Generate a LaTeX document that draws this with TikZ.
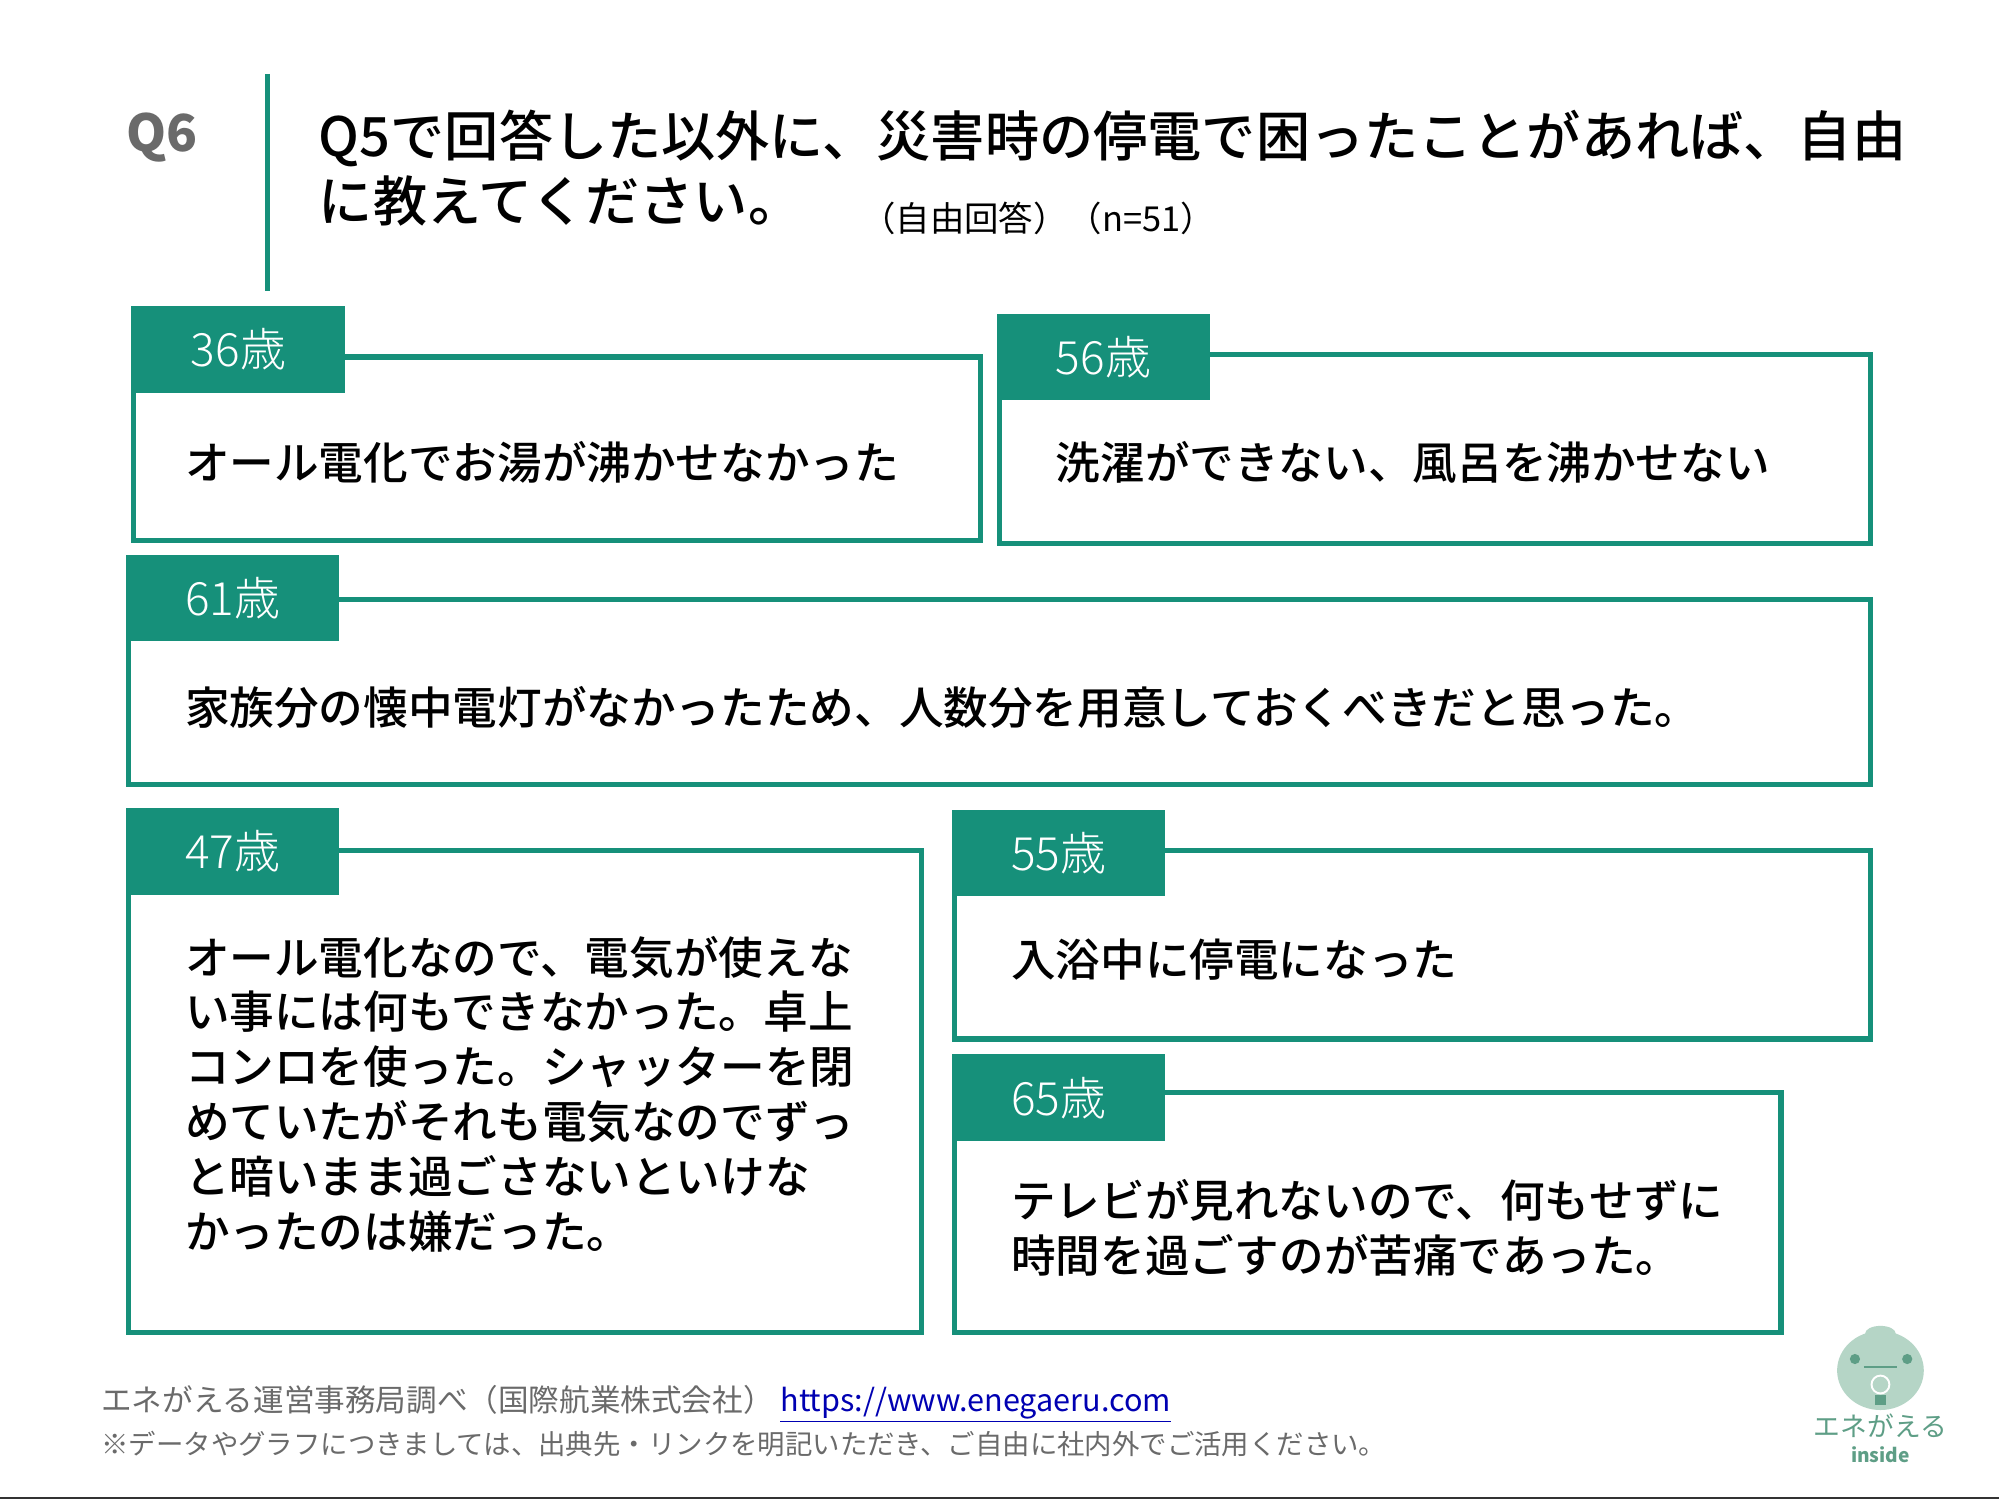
\documentclass[tikz,border=0pt]{standalone}
\usepackage{fontspec}
\setmainfont{Noto Sans CJK JP}
\newfontfamily\jpb{Noto Sans CJK JP Medium}
\newfontfamily\jpl{Noto Sans CJK JP Light}
\definecolor{teal1}{HTML}{16907A}
\definecolor{greyt}{HTML}{6A6A6A}
\definecolor{frog}{HTML}{B5D5C6}
\definecolor{frogd}{HTML}{5E9E86}
\tikzset{
 card/.style={draw=teal1,line width=4pt,fill=white},
 tag/.style={fill=teal1,text=white,font=\jpl\fontsize{36}{36}\selectfont,inner sep=0pt},
 body/.style={anchor=north west,align=left,inner sep=0pt,font=\jpb\fontsize{35}{43}\selectfont}
}
\begin{document}
\begin{tikzpicture}[x=1pt,y=-1pt]
\useasboundingbox (0,0) rectangle (1568,1177);
\fill[white] (0,0) rectangle (1568,1177);
\draw[line width=2pt,black!80] (0,1175) -- (1568,1175);
\node[font=\bfseries\fontsize{40}{40}\selectfont,text=greyt,anchor=west] (q) at (96,108) {Q6};
\draw[teal1,line width=3.5pt] (210,58) -- (210,228);
\node[anchor=north west,inner sep=0pt,align=left,font=\jpb\fontsize{42.5}{51}\selectfont] (t) at (250,86) {Q5で回答した以外に、災害時の停電で困ったことがあれば、自由\\に教えてください。};
\node[anchor=west,font=\fontsize{27}{27}\selectfont] (t2) at (672,171) {（自由回答）（n=51）};
\draw[card] (105,280) rectangle (769,424);
\fill[teal1] (103,240) rectangle node[tag]{36歳} (271,308);
\node[body] (b1) at (145,346) {オール電化でお湯が沸かせなかった};
\draw[card] (784,278) rectangle (1467,426);
\fill[teal1] (782,246) rectangle node[tag]{56歳} (949,314);
\node[body] (b2) at (828,346) {洗濯ができない、風呂を沸かせない};
\draw[card] (101,470) rectangle (1467,615);
\fill[teal1] (99,435) rectangle node[tag]{61歳} (266,503);
\node[body] (b3) at (145,538) {家族分の懐中電灯がなかったため、人数分を用意しておくべきだと思った。};
\draw[card] (101,667) rectangle (723,1045);
\fill[teal1] (99,634) rectangle node[tag]{47歳} (266,702);
\node[body] (b4) at (145,734) {オール電化なので、電気が使えな\\い事には何もできなかった。卓上\\コンロを使った。シャッターを閉\\めていたがそれも電気なのでずっ\\と暗いまま過ごさないといけな\\かったのは嫌だった。};
\draw[card] (749,667) rectangle (1467,815);
\fill[teal1] (747,635) rectangle node[tag]{55歳} (914,703);
\node[body] (b5) at (793,736) {入浴中に停電になった};
\draw[card] (749,857) rectangle (1397,1045);
\fill[teal1] (747,827) rectangle node[tag]{65歳} (914,895);
\node[body] (b6) at (793,925) {テレビが見れないので、何もせずに\\時間を過ごすのが苦痛であった。};
\node[anchor=west,text=greyt,font=\fontsize{24}{24}\selectfont] (f1) at (76,1101) {エネがえる運営事務局調べ（国際航業株式会社）\ \textcolor{blue!70!black}{\underline{https://www.enegaeru.com}}};
\node[anchor=west,text=greyt,font=\fontsize{21.5}{21.5}\selectfont] (f2) at (76,1133) {※データやグラフにつきましては、出典先・リンクを明記いただき、ご自由に社内外でご活用ください。};
\fill[frog] (1475,1075) ellipse (34 and 31);
\fill[frog] (1475,1046) ellipse (12 and 6);
\fill[frogd] (1455,1066) circle (4);
\fill[frogd] (1496,1066) circle (4);
\draw[frogd,line width=1.5pt] (1462,1072) -- (1488,1072);
\draw[white,line width=1.5pt] (1475,1086) circle (7);
\fill[frogd] (1471,1094) rectangle (1479,1102);
\node[text=frogd,font=\fontsize{21}{21}\selectfont] (l1) at (1475,1118) {エネがえる};
\node[text=frogd,font=\bfseries\itshape\fontsize{15}{15}\selectfont] (l2) at (1475,1141) {inside};
\end{tikzpicture}
\end{document}
